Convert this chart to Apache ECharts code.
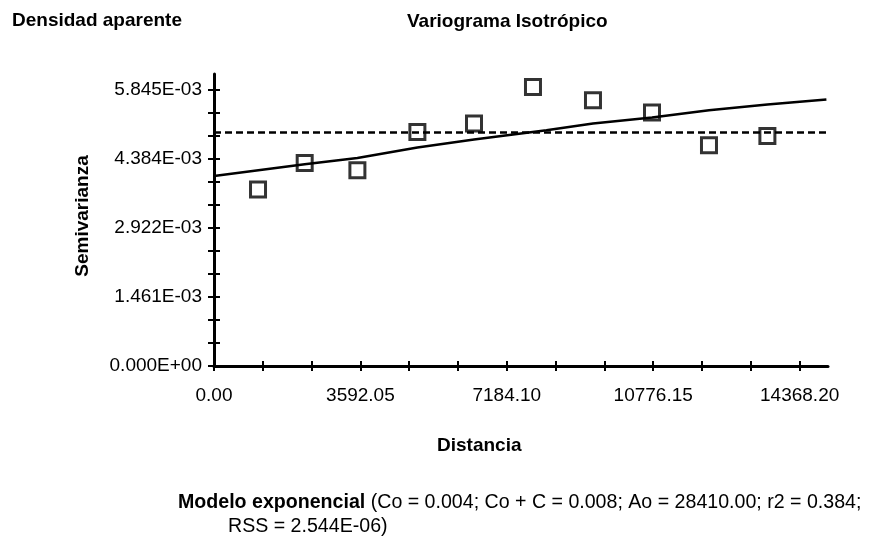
<!DOCTYPE html>
<html>
<head>
<meta charset="utf-8">
<script src="https://cdn.jsdelivr.net/npm/echarts@6/dist/echarts.min.js"></script>
<style>
  html, body { margin: 0; padding: 0; background: #fff; }
  #chart { width: 869px; height: 548px; }
</style>
</head>
<body>
<div id="chart"></div>
<script>
const lagDistance = [1080, 2225, 3518, 4990, 6379, 7826, 9298, 10746, 12144, 13577];
const semivariance = [0.003730, 0.004293, 0.004138, 0.004948, 0.005126, 0.005900, 0.005619, 0.005359, 0.004667, 0.004864];

// modelo exponencial ajustado
const modelDistance = [0, 2225, 3518, 4990, 6379, 8155, 9298, 10746, 12144, 13577, 15025];
const modelValues = [0.004018, 0.004265, 0.004399, 0.004619, 0.004788, 0.004984, 0.005126, 0.005253, 0.005407, 0.005528, 0.005634];

// varianza de la muestra (línea discontinua)
const sillDistance = [0, 15060];
const sillValue = [0.004936, 0.004936];

// ejes
const xLabelValues = [0, 3592.05, 7184.10, 10776.15, 14368.20];
const xTickValues = [0, 1197.35, 2394.7, 3592.05, 4789.4, 5986.75, 7184.1, 8381.45, 9578.8, 10776.15, 11973.5, 13170.85, 14368.2];
const yLabelValues = [0, 0.001461, 0.002922, 0.004384, 0.005845];
const yTickValues = [0, 0.000487, 0.000974, 0.001461, 0.001948, 0.002435, 0.002922, 0.003409, 0.003896, 0.004384, 0.004871, 0.005358, 0.005845];

const FONT = "'Liberation Sans', Arial, sans-serif";

// formato 5.845E-03
const sci = v => {
  if (v === 0) return '0.000E+00';
  const e = Math.floor(Math.log10(Math.abs(v)) + 1e-9);
  const m = v / Math.pow(10, e);
  return m.toFixed(3) + 'E' + (e < 0 ? '-' : '+') + String(Math.abs(e)).padStart(2, '0');
};

const chart = echarts.init(document.getElementById('chart'));

const txt = (text, left, top, bold, size) => ({
  text: text,
  left: left,
  top: top,
  padding: 0,
  textStyle: { fontFamily: FONT, fontSize: size || 19, fontWeight: bold ? 'bold' : 'normal', color: '#000' }
});

const option = {
  animation: false,
  backgroundColor: '#fff',
  title: [
    txt('Densidad aparente', 12, 11, true),
    txt('Variograma Isotrópico', 407, 12, true),
    txt('Distancia', 437, 436, true),
    {
      text: '{b|Modelo exponencial} (Co = 0.004; Co + C = 0.008; Ao = 28410.00; r2 = 0.384;',
      left: 178,
      top: 493,
      padding: 0,
      textStyle: {
        fontFamily: FONT, fontSize: 19.6, fontWeight: 'normal', color: '#000',
        rich: { b: { fontFamily: FONT, fontSize: 19.6, fontWeight: 'bold', color: '#000' } }
      }
    },
    txt('RSS = 2.544E-06)', 228, 517, false, 19.6)
  ],
  grid: { left: 214, top: 74, width: 614, height: 292 },
  xAxis: [{
    type: 'value',
    position: 'bottom',
    min: 0,
    max: 15064,
    axisLine: { show: true, lineStyle: { color: '#000', width: 3 } },
    axisTick: { show: true, length: 5, customValues: xTickValues, lineStyle: { color: '#000', width: 2 } },
    axisLabel: {
      customValues: xLabelValues,
      formatter: v => v.toFixed(2),
      margin: 20,
      fontFamily: FONT, fontSize: 19, color: '#000'
    },
    splitLine: { show: false }
  }, {
    type: 'value',
    position: 'bottom',
    min: 0,
    max: 15064,
    axisLine: { show: false },
    axisTick: { show: true, inside: true, length: 5, customValues: xTickValues, lineStyle: { color: '#000', width: 2 } },
    axisLabel: { show: false },
    splitLine: { show: false }
  }],
  yAxis: [{
    type: 'value',
    position: 'left',
    min: 0,
    max: 0.006175,
    name: 'Semivarianza',
    nameLocation: 'middle',
    nameRotate: 90,
    nameGap: 122,
    nameTextStyle: { fontFamily: FONT, fontSize: 19, fontWeight: 'bold', color: '#000', padding: [0, 0, 0, 8] },
    axisLine: { show: true, lineStyle: { color: '#000', width: 3 } },
    axisTick: { show: true, length: 6, customValues: yTickValues, lineStyle: { color: '#000', width: 2 } },
    axisLabel: {
      customValues: yLabelValues,
      formatter: sci,
      margin: 12,
      fontFamily: FONT, fontSize: 19, color: '#000'
    },
    splitLine: { show: false }
  }, {
    type: 'value',
    position: 'left',
    min: 0,
    max: 0.006175,
    axisLine: { show: false },
    axisTick: { show: true, inside: true, length: 6, customValues: yTickValues, lineStyle: { color: '#000', width: 2 } },
    axisLabel: { show: false },
    splitLine: { show: false }
  }],
  series: [{
    name: 'Varianza',
    type: 'line',
    data: sillDistance.map((d, i) => [d, sillValue[i]]),
    symbol: 'none',
    lineStyle: { color: '#000', width: 2.5, type: [7, 4] },
    z: 2
  }, {
    name: 'Modelo',
    type: 'line',
    data: modelDistance.map((d, i) => [d, modelValues[i]]),
    symbol: 'none',
    smooth: false,
    lineStyle: { color: '#000', width: 2.5 },
    z: 3
  }, {
    name: 'Semivarianza',
    type: 'scatter',
    data: lagDistance.map((d, i) => [d, semivariance[i]]),
    symbol: 'rect',
    symbolSize: 15,
    itemStyle: { color: 'rgba(255,255,255,0)', borderColor: '#000', borderWidth: 3 },
    z: 4
  }]
};

chart.setOption(option);
</script>
</body>
</html>
